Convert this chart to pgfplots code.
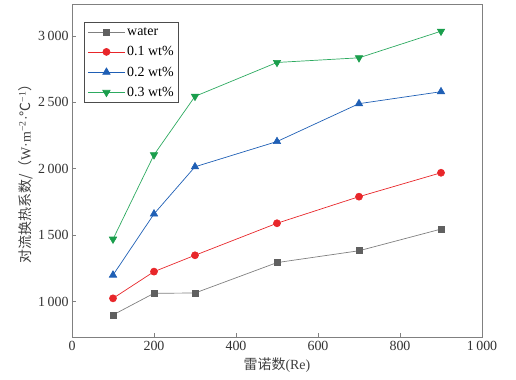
\documentclass[border=0pt]{standalone}
\usepackage{pgfplots}
\pgfplotsset{compat=1.18}
\usepackage{fontspec}
\setmainfont{Liberation Serif}
\newfontfamily\cjk{Noto Sans CJK SC}
\definecolor{cgrey}{HTML}{808080}
\definecolor{cgreyd}{HTML}{606060}
\definecolor{cred}{HTML}{E8262A}
\definecolor{cblue}{HTML}{1F5FB5}
\definecolor{cgreen}{HTML}{2DAA60}
\definecolor{cgreenm}{HTML}{1A9E4C}
\begin{document}
\begin{tikzpicture}
\begin{axis}[
  scale only axis, width=410bp, height=333bp,
  xmin=0, xmax=1000, ymin=734, ymax=3240,
  xtick={0,200,400,600,800,1000},
  ytick={1000,1500,2000,2500,3000},
  tick align=inside, tick pos=left,
  axis line style={cgrey, line width=0.8pt},
  major tick style={cgrey, line width=0.7pt},
  major tick length=4bp,
  /pgf/number format/assume math mode=true,
  /pgf/number format/1000 sep={\hspace{2.5bp}},
  ticklabel style={font=\fontsize{14}{16}\selectfont, text=black!80},
  xticklabel style={yshift=-1bp},
  xlabel={\cjk 雷诺数\rmfamily(Re)},
  ylabel={\cjk 对流换热系数/（\rmfamily W·m\textsuperscript{−2}·{\cjk ℃}\textsuperscript{−1}\cjk）},
  label style={font=\fontsize{14}{16}\selectfont, text=black!75},
  xlabel style={yshift=0bp},
  ylabel style={yshift=-2bp},
  legend style={at={(0.03,0.945)}, anchor=north west, draw=black!70, line width=0.8pt,
    font=\fontsize{14}{16}\selectfont, row sep=5.5bp, inner sep=3pt},
  legend image code/.code={%
    \draw[mark repeat=2,mark phase=2] plot coordinates {(0cm,0cm) (0.65cm,0cm) (1.3cm,0cm)};},
  legend cell align=left,
]
\addplot[cgrey, line width=0.7pt, mark=square*, mark size=3bp, mark options={fill=cgreyd, draw=cgreyd}]
  coordinates {(100,900) (200,1063) (300,1065) (500,1294) (700,1383) (900,1546)};
\addlegendentry{water}
\addplot[cred, line width=0.7pt, mark=*, mark size=3.5bp, mark options={fill=cred, draw=cred}]
  coordinates {(100,1025) (200,1226) (300,1349) (500,1590) (700,1790) (900,1970)};
\addlegendentry{0.1 wt\%}
\addplot[cblue, line width=0.7pt, mark=triangle*, mark size=4.2bp, mark options={fill=cblue, draw=cblue}]
  coordinates {(100,1200) (200,1660) (300,2015) (500,2205) (700,2490) (900,2580)};
\addlegendentry{0.2 wt\%}
\addplot[cgreen, line width=0.7pt, mark=triangle*, mark size=4.2bp, mark options={fill=cgreenm, draw=cgreenm, rotate=180}]
  coordinates {(100,1470) (200,2105) (300,2545) (500,2800) (700,2835) (900,3035)};
\addlegendentry{0.3 wt\%}
\end{axis}
\useasboundingbox (-72bp,-43bp) rectangle (444bp,337bp);
\end{tikzpicture}
\end{document}
